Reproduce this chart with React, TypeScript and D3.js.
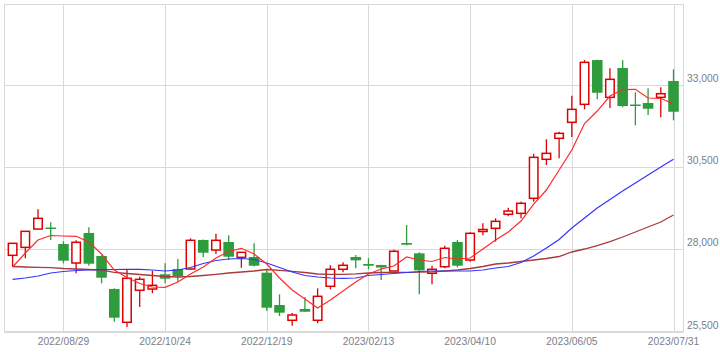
import * as d3 from 'd3';

// weekly candles, 2022/08/01 .. 2023/07/31
const opens = [27820, 28063, 28620, 28650, 28164, 27586, 28498, 27799, 26795, 25783, 26756, 26795, 27242, 27404, 27404, 28286, 27981, 28225, 27759, 27769, 27291, 26309, 25844, 26187, 25844, 26878, 27395, 27769, 27556, 27525, 27343, 28194, 27881, 27273, 27474, 28225, 27677, 28544, 28641, 29067, 29097, 29554, 30740, 31378, 31865, 32412, 33759, 32625, 33516, 32391, 32452, 32625, 33121];
const highs = [28185, 28550, 29219, 28824, 28246, 28276, 28672, 27820, 26820, 27373, 27170, 27352, 27577, 27708, 28337, 28300, 28477, 28428, 27920, 28185, 27364, 26634, 26066, 26552, 26817, 27516, 27607, 27829, 27729, 27530, 27991, 28742, 27911, 27504, 28112, 28286, 28520, 28793, 28945, 29268, 29450, 30910, 31348, 31579, 32674, 33759, 33770, 33507, 33750, 32777, 32899, 32929, 33476];
const lows = [27474, 27729, 28620, 28286, 27577, 27273, 27504, 26969, 25801, 25640, 26248, 26665, 26969, 27017, 27380, 27759, 27860, 27677, 27443, 27480, 26126, 25974, 25679, 26100, 25752, 26786, 27303, 27425, 27395, 27069, 27340, 28124, 26634, 26938, 27425, 27455, 27626, 28428, 28234, 29006, 28945, 29450, 30566, 30770, 31418, 32260, 32564, 32300, 32321, 31774, 32087, 32017, 31926];
const closes = [28185, 28550, 28945, 28635, 27656, 28216, 27565, 27139, 25923, 27121, 27090, 26908, 27109, 27191, 28276, 27899, 28276, 27778, 27911, 27504, 26227, 26075, 26005, 26105, 26573, 27395, 27516, 27668, 27504, 27449, 27942, 28143, 27364, 27395, 28033, 27504, 28489, 28605, 28854, 29167, 29402, 30800, 30922, 31530, 32260, 33689, 32765, 33173, 32360, 32360, 32278, 32735, 32187];

// moving averages
const maShort = [27464, 27890, 28286, 28422, 28407, 28398, 28225, 27860, 27373, 27145, 26963, 26856, 26847, 27008, 27252, 27464, 27738, 27936, 28033, 27860, 27556, 27130, 26765, 26491, 26218, 26461, 26735, 27008, 27252, 27404, 27495, 27769, 27677, 27632, 27753, 27708, 27738, 28012, 28286, 28529, 28863, 29380, 29806, 30414, 31022, 31828, 32208, 32665, 32862, 32868, 32604, 32595, 32421];
const maMid = [27090, 27130, 27191, 27282, 27328, 27358, 27373, 27382, 27388, 27395, 27395, 27373, 27343, 27373, 27449, 27571, 27662, 27708, 27723, 27693, 27586, 27449, 27312, 27206, 27160, 27130, 27121, 27130, 27206, 27236, 27267, 27297, 27328, 27343, 27343, 27343, 27343, 27373, 27434, 27480, 27601, 27799, 28042, 28301, 28651, 28955, 29259, 29517, 29776, 30019, 30262, 30505, 30740];
const maLong = [27480, 27464, 27455, 27443, 27419, 27404, 27388, 27367, 27303, 27267, 27236, 27206, 27176, 27160, 27176, 27206, 27243, 27282, 27312, 27343, 27388, 27364, 27334, 27297, 27252, 27243, 27243, 27258, 27282, 27297, 27303, 27303, 27306, 27319, 27343, 27373, 27419, 27480, 27556, 27586, 27632, 27677, 27723, 27784, 27921, 28012, 28118, 28240, 28377, 28529, 28681, 28833, 29046];

const xTicks = ['2022/08/29', '2022/10/24', '2022/12/19', '2023/02/13', '2023/04/10', '2023/06/05', '2023/07/31'];
const yTicks = [25500, 28000, 30500, 33000];

const W = 720;
const H = 352;
const plot = { left: 4.5, top: 4.5, right: 683.5, bottom: 331.5 };

const UP = '#dd0000';
const DOWN = '#2e9c3c';

const parse = d3.timeParse('%Y/%m/%d');
const weeks = d3.timeMonday.range(new Date(2022, 7, 1), new Date(2023, 7, 1));

export default function App() {
    const x = d3
        .scaleTime()
        .domain([weeks[0], weeks[weeks.length - 1]])
        .range([12.6, 673.5]);
    const y = d3.scaleLinear().domain([25500, 33000]).range([331.6, 85]);

    const line = d3
        .line<number>()
        .x((_, i) => x(weeks[i]))
        .y((d) => y(d));

    const font = '"Liberation Sans", Arial, sans-serif';

    return (
        <svg width={W} height={H} style={{ position: 'absolute', left: 0, top: 0, background: '#fff' }}>
            {/* grid */}
            <g stroke="#d9d9d9" strokeWidth={1}>
                {xTicks.map((t) => {
                    const px = Math.round(x(parse(t)!)) + 0.5;
                    return <line key={t} x1={px} x2={px} y1={plot.top} y2={plot.bottom} />;
                })}
                {yTicks.map((t) => {
                    const py = Math.round(y(t)) + 0.5;
                    return <line key={t} x1={plot.left} x2={plot.right} y1={py} y2={py} />;
                })}
                <rect x={plot.left} y={plot.top} width={plot.right - plot.left} height={plot.bottom - plot.top} fill="none" />
            </g>

            {/* candles */}
            <g>
                {weeks.map((wk, i) => {
                    const cx = x(wk);
                    const o = opens[i];
                    const c = closes[i];
                    const top = y(Math.max(o, c));
                    const bot = y(Math.min(o, c));
                    if (c > o) {
                        return (
                            <g key={i} stroke={UP} strokeWidth={1.5} fill="#fff">
                                <line x1={cx} x2={cx} y1={y(highs[i])} y2={top} strokeWidth={1.3} />
                                <line x1={cx} x2={cx} y1={bot} y2={y(lows[i])} strokeWidth={1.3} />
                                <rect x={cx - 4.25} y={top} width={8.5} height={Math.max(bot - top, 1.5)} />
                            </g>
                        );
                    }
                    const h = Math.max(bot - top, 1.5);
                    return (
                        <g key={i} fill={DOWN}>
                            <line x1={cx} x2={cx} y1={y(highs[i])} y2={y(lows[i])} stroke={DOWN} strokeWidth={1.3} />
                            <rect x={cx - 5.3} y={top - (h > bot - top ? 0.5 : 0)} width={10.6} height={h} />
                        </g>
                    );
                })}
            </g>

            {/* moving averages */}
            <path d={line(maLong)!} fill="none" stroke="#a83a3a" strokeWidth={1.3} />
            <path d={line(maMid)!} fill="none" stroke="#3434ff" strokeWidth={1.2} />
            <path d={line(maShort)!} fill="none" stroke="#ff2a2a" strokeWidth={1.2} />

            {/* axis labels */}
            <g fontFamily={font} fontSize={10.3} fill="#7a808c">
                {yTicks.map((t) => (
                    <text key={t} x={687} y={y(t) - 3}>
                        {d3.format(',')(t)}
                    </text>
                ))}
                {xTicks.map((t) => (
                    <text key={t} x={x(parse(t)!)} y={345} textAnchor="middle">
                        {t}
                    </text>
                ))}
            </g>
        </svg>
    );
}
